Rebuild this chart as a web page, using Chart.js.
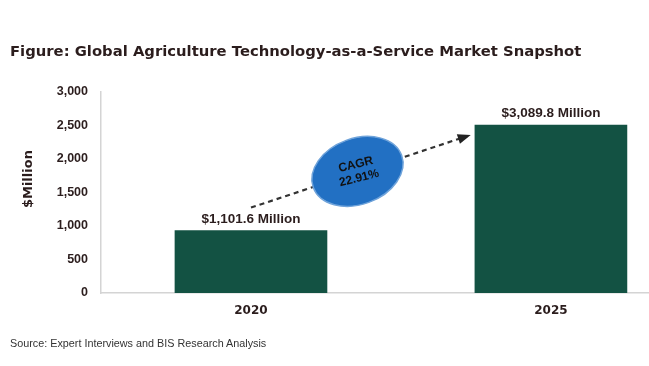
<!DOCTYPE html>
<html>
<head>
<meta charset="utf-8">
<script src="https://cdn.jsdelivr.net/npm/chart.js@4/dist/chart.umd.min.js"></script>
<style>
  body { margin: 0; background: #fff; }
  #wrap { position: relative; width: 649px; height: 366px; overflow: hidden; background: #fff; }
  #title {
    position: absolute; left: 10px; top: 42px;
    font: bold 14.8px "DejaVu Sans", sans-serif;
    color: #2b1d1d; white-space: nowrap;
  }
  #source {
    position: absolute; left: 10px; top: 337px;
    font: 10.8px "Liberation Sans", Arial, sans-serif; color: #333;
  }
  canvas { position: absolute; left: 0; top: 0; }
</style>
</head>
<body>
<div id="wrap">
  <canvas id="chart" width="649" height="366"></canvas>
  <div id="title">Figure: Global Agriculture Technology-as-a-Service Market Snapshot</div>
  <div id="source">Source: Expert Interviews and BIS Research Analysis</div>
</div>
<script>
// data
const years = ['2020', '2025'];
const barHeights = [930, 2505];            // heights as drawn
const barLabels = ['$1,101.6 Million', '$3,089.8 Million'];
const yTicks = [0, 500, 1000, 1500, 2000, 2500, 3000];
const yTitle = '$Million';
const cagrText = ['CAGR', '22.91%'];

const green = '#135243';
const ink = '#2b1d1d';

const annotate = {
  id: 'annotate',
  afterDatasetsDraw(chart) {
    const ctx = chart.ctx;
    const xs = chart.scales.x, ys = chart.scales.y;

    // value labels above bars
    ctx.save();
    ctx.font = 'bold 13.5px "Liberation Sans", Arial, sans-serif';
    ctx.fillStyle = ink;
    ctx.textAlign = 'center';
    ctx.textBaseline = 'bottom';
    barHeights.forEach((v, i) => {
      ctx.fillText(barLabels[i], xs.getPixelForValue(i), ys.getPixelForValue(v) - 5);
    });

    // y title
    ctx.save();
    ctx.translate(29, ys.getPixelForValue(1700));
    ctx.rotate(-Math.PI / 2);
    ctx.textBaseline = 'middle';
    ctx.font = 'bold 13px "DejaVu Sans", sans-serif';
    ctx.fillText(yTitle, 0, 0);
    ctx.restore();

    // dashed arrow
    const x1 = xs.getPixelForValue(0), y1 = ys.getPixelForValue(1275);
    const x2 = xs.getPixelForValue(0.72), y2 = ys.getPixelForValue(2340);
    ctx.strokeStyle = '#333';
    ctx.lineWidth = 2.2;
    ctx.setLineDash([5, 4]);
    ctx.beginPath();
    ctx.moveTo(x1, y1);
    ctx.lineTo(x2, y2);
    ctx.stroke();
    ctx.setLineDash([]);
    const ang = Math.atan2(y2 - y1, x2 - x1);
    ctx.fillStyle = '#222';
    ctx.beginPath();
    ctx.moveTo(x2 + 4 * Math.cos(ang), y2 + 4 * Math.sin(ang));
    ctx.lineTo(x2 - 9 * Math.cos(ang) - 5 * Math.sin(ang), y2 - 9 * Math.sin(ang) + 5 * Math.cos(ang));
    ctx.lineTo(x2 - 9 * Math.cos(ang) + 5 * Math.sin(ang), y2 - 9 * Math.sin(ang) - 5 * Math.cos(ang));
    ctx.closePath();
    ctx.fill();

    // CAGR ellipse
    const cx = xs.getPixelForValue(0.355), cy = ys.getPixelForValue(1815);
    ctx.beginPath();
    ctx.ellipse(cx, cy, 47, 33, -20 * Math.PI / 180, 0, Math.PI * 2);
    ctx.fillStyle = '#2270c3';
    ctx.fill();
    ctx.lineWidth = 1.5;
    ctx.strokeStyle = '#6fa3da';
    ctx.stroke();

    ctx.translate(cx, cy);
    ctx.rotate(-14 * Math.PI / 180);
    ctx.fillStyle = '#111';
    ctx.font = 'bold 12px "Liberation Sans", Arial, sans-serif';
    ctx.textBaseline = 'middle';
    ctx.fillText(cagrText[0], 0, -7);
    ctx.fillText(cagrText[1], 0, 7);
    ctx.restore();
  }
};

new Chart(document.getElementById('chart'), {
  type: 'bar',
  data: {
    datasets: [{
      data: years.map((y, i) => ({ x: i, y: barHeights[i] })),
      backgroundColor: green,
      barThickness: 152
    }]
  },
  options: {
    responsive: false,
    animation: false,
    layout: { padding: { top: 92, right: 0, bottom: 0, left: 0 } },
    plugins: { legend: { display: false }, tooltip: { enabled: false } },
    scales: {
      x: {
        type: 'linear',
        offset: false,
        min: -0.5,
        max: 1.327,
        afterBuildTicks: s => { s.ticks = years.map((y, i) => ({ value: i })); },
        afterFit: s => { s.height = 73; },
        grid: { display: false, drawTicks: false },
        border: { color: '#d4d4d4', width: 1.5 },
        ticks: {
          padding: 11,
          color: ink,
          font: { family: '"DejaVu Sans", sans-serif', size: 12, weight: 'bold' },
          callback: v => years[v] ?? ''
        }
      },
      y: {
        min: 0,
        max: 3000,
        afterBuildTicks: s => { s.ticks = yTicks.map(v => ({ value: v })); },
        afterFit: s => { s.width = 101; },
        grid: { display: false, drawTicks: false },
        border: { color: '#d4d4d4', width: 1.5 },
        ticks: {
          padding: 13,
          color: ink,
          font: { family: '"Liberation Sans", Arial, sans-serif', size: 12.5, weight: 'bold' },
          callback: v => v.toLocaleString('en-US')
        }
      }
    }
  },
  plugins: [annotate]
});
</script>
</body>
</html>
